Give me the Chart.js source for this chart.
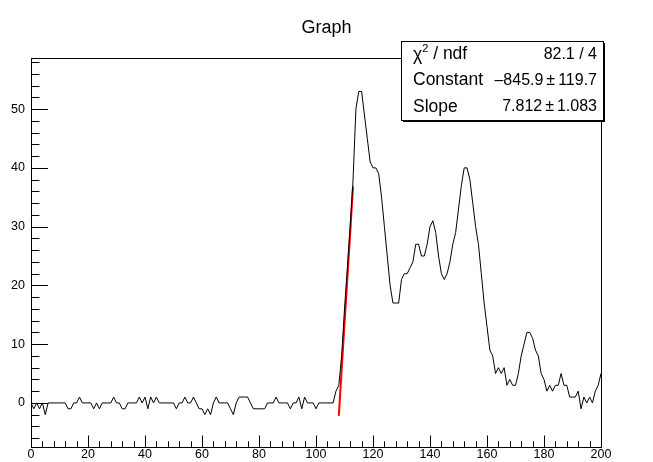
<!DOCTYPE html>
<html>
<head>
<meta charset="utf-8">
<script src="https://cdn.jsdelivr.net/npm/chart.js@4.4.1/dist/chart.umd.min.js"></script>
<style>
  html, body { margin: 0; padding: 0; background: #fff; }
</style>
</head>
<body>
<canvas id="myChart" width="653" height="462"></canvas>
<script>
// counts per bin, x = 0..200
const counts = [
  0, -1, 0, -1, 0, -2, 0, 0, 0, 0,
  0, 0, 0, -1, -1, 0, 0, 1, 0, 0,
  0, 0, -1, 0, -1, 0, 0, 0, 0, 1,
  0, 0, -1, -1, 0, 0, 0, 0, 1, 0,
  1, -1, 1, 0, 1, 0, 0, 0, 0, 0,
  0, -1, 0, 0, 1, 0, 0, 1, 0, -1,
  -1, -2, -1, -2, 0, 1, 0, 0, 0, 0,
  -1, -2, 0, 1, 1, 1, 1, 0, -1, -1,
  -1, -1, -1, 0, 0, 0, 1, 0, 0, 0,
  0, -1, 0, 0, 1, -1, 1, 0, 0, 0,
  -1, 0, 0, 0, 0, 0, 0, 2, 3, 8,
  16, 23, 30, 38, 50, 53, 53, 49, 45, 41,
  40, 40, 39, 35, 30, 25, 20, 17, 17, 17,
  21, 22, 22, 23, 24, 27, 27, 25, 25, 27,
  30, 31, 29, 25, 22, 21, 22, 24, 27, 29,
  33, 37, 40, 40, 38, 34, 30, 27, 22, 17,
  13, 9, 8, 5, 6, 5, 6, 3, 4, 3,
  3, 5, 8, 10, 12, 12, 11, 9, 8, 5,
  4, 2, 3, 2, 3, 3, 5, 3, 3, 1,
  1, 1, 2, -1, 1, 0, 1, 0, 2, 3,
  5
];

// linear fit (pol1) and its range
const fitRange = [108, 113];
const fitConstant = -845.9;
const fitSlope = 7.812;

const titleText = 'Graph';
const statLabels = ['/ ndf', 'Constant', 'Slope'];
// [value, error]; first row is chi2 / ndf
const statValues = [['82.1 / 4'], ['\u2013845.9', '119.7'], ['7.812', '1.083']];

const FONT = '"Liberation Sans", Arial, Helvetica, sans-serif';

let graphPoints = counts.map((c, i) => ({x: i, y: c}));
let fitPoints = fitRange.map(v => ({x: v, y: fitConstant + fitSlope * v}));

// ROOT-like title, frame, inner tick marks and stats box
const rootFrame = {
  id: 'rootFrame',
  afterDatasetsDraw(chart) {
    const ctx = chart.ctx;
    const a = chart.chartArea;
    const xs = chart.scales.x, ys = chart.scales.y;
    ctx.save();

    ctx.fillStyle = '#000';
    ctx.font = '18px ' + FONT;
    ctx.textAlign = 'center';
    ctx.textBaseline = 'middle';
    ctx.fillText(titleText, 326.5, 28);

    ctx.strokeStyle = '#000';
    ctx.lineWidth = 1;
    ctx.strokeRect(Math.round(a.left) + 0.5, Math.round(a.top) + 0.5,
                   Math.round(a.right - a.left), Math.round(a.bottom - a.top));
    ctx.beginPath();
    for (let v = 0; v <= 200; v += 4) {
      const px = Math.round(xs.getPixelForValue(v)) + 0.5;
      const len = v % 20 === 0 ? 11.5 : 5.7;
      ctx.moveTo(px, a.bottom);
      ctx.lineTo(px, a.bottom - len);
    }
    for (let v = -6; v <= 58; v += 2) {
      const py = Math.round(ys.getPixelForValue(v)) + 0.5;
      const len = v % 10 === 0 ? 17 : 8.5;
      ctx.moveTo(a.left, py);
      ctx.lineTo(a.left + len, py);
    }
    ctx.stroke();

    // stats box
    const bx = 401, by = 41, bw = 202, bh = 79;
    ctx.fillStyle = '#000';
    ctx.fillRect(bx + 2, by + 2, bw, bh);
    ctx.fillStyle = '#fff';
    ctx.fillRect(bx, by, bw, bh);
    ctx.strokeRect(bx + 0.5, by + 0.5, bw, bh);

    ctx.fillStyle = '#000';
    ctx.textBaseline = 'middle';
    const rowH = bh / 3;
    for (let i = 0; i < 3; i++) {
      const cy = by + rowH * (i + 0.5);
      ctx.font = '17.5px ' + FONT;
      ctx.textAlign = 'left';
      if (i === 0) {
        ctx.fillText('\u03c7', 413, cy + 1);
        const w = ctx.measureText('\u03c7').width;
        ctx.font = '11px ' + FONT;
        ctx.fillText('2', 413 + w, cy - 5);
        const w2 = ctx.measureText('2').width;
        ctx.font = '17.5px ' + FONT;
        ctx.fillText(' ' + statLabels[0], 413 + w + w2, cy);
      } else {
        ctx.fillText(statLabels[i], 413, cy);
      }
      // values, right aligned
      ctx.font = '16px ' + FONT;
      ctx.textAlign = 'right';
      const val = statValues[i];
      if (val.length === 1) {
        ctx.fillText(val[0], 597, cy);
      } else {
        let xr = 597;
        ctx.fillText(val[1], xr, cy);
        xr -= ctx.measureText(val[1]).width + 3;
        ctx.fillText('\u00b1', xr, cy);
        xr -= ctx.measureText('\u00b1').width + 3;
        ctx.fillText(val[0], xr, cy);
      }
    }
    ctx.restore();
  }
};

let ctx = document.getElementById('myChart').getContext('2d');
let graphChart = new Chart(ctx, {
  type: 'line',
  data: {
    datasets: [
      {
        label: 'Graph',
        data: graphPoints,
        borderColor: '#000',
        borderWidth: 1,
        pointRadius: 0,
        tension: 0,
        fill: false
      },
      {
        label: 'fit',
        data: fitPoints,
        borderColor: '#ff0000',
        borderWidth: 2,
        pointRadius: 0,
        tension: 0,
        fill: false
      }
    ]
  },
  options: {
    responsive: false,
    animation: false,
    devicePixelRatio: 1,
    layout: { padding: { left: 0, right: 52, top: 58, bottom: 0 } },
    plugins: {
      legend: { display: false },
      tooltip: { enabled: false },
      title: { display: false }
    },
    scales: {
      x: {
        type: 'linear',
        min: 0,
        max: 200,
        afterFit: s => { s.height = 15; },
        grid: { display: false, drawTicks: false },
        border: { display: false },
        ticks: {
          stepSize: 20,
          padding: 0,
          maxRotation: 0,
          color: '#000',
          font: { family: FONT, size: 12.5 }
        }
      },
      y: {
        type: 'linear',
        min: -7.5,
        max: 58.7,
        afterFit: s => { s.width = 31; },
        grid: { display: false, drawTicks: false },
        border: { display: false },
        ticks: {
          stepSize: 10,
          includeBounds: false,
          padding: 6,
          color: '#000',
          font: { family: FONT, size: 12.5 }
        }
      }
    }
  },
  plugins: [rootFrame]
});
</script>
</body>
</html>
